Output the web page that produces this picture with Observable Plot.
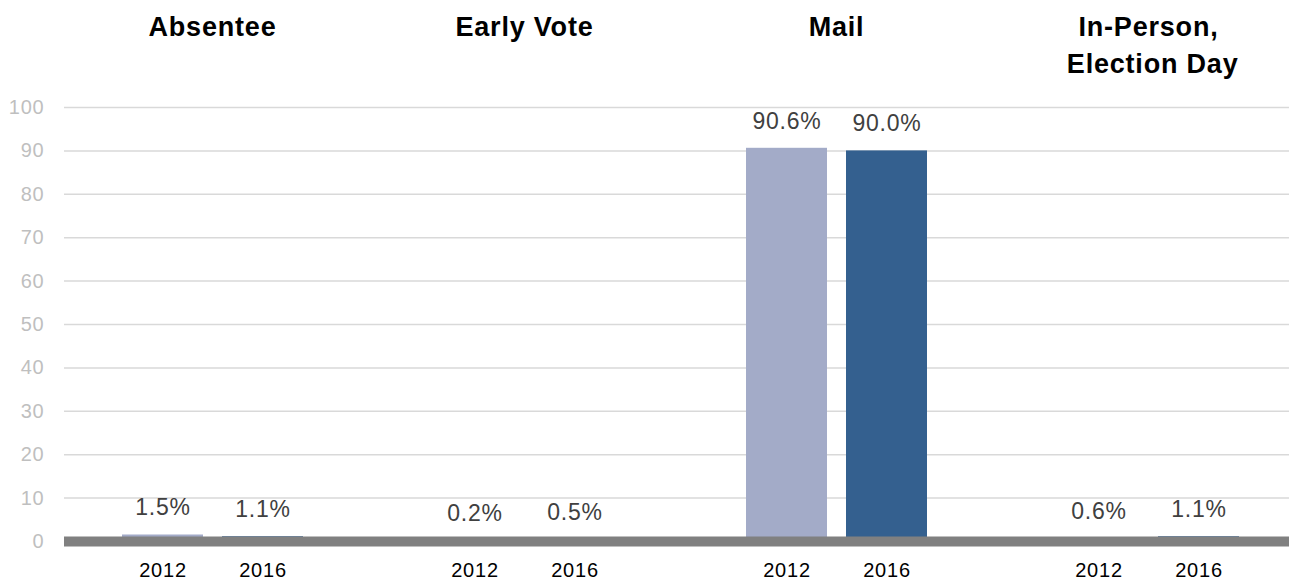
<!DOCTYPE html>
<html>
<head>
<meta charset="utf-8">
<script src="https://cdn.jsdelivr.net/npm/d3@7"></script>
<script src="https://cdn.jsdelivr.net/npm/@observablehq/plot@0.6"></script>
<style>
  html, body { margin: 0; padding: 0; background: #fff; }
  svg { font-family: "Liberation Sans", Arial, sans-serif; }
  svg text { letter-spacing: 0.8px; }
</style>
</head>
<body>
<div id="chart"></div>
<script>
const categories = ["Absentee", "Early Vote", "Mail", "In-Person, Election Day"];
const titles = ["Absentee", "Early Vote", "Mail", "In-Person,\n Election Day"];
const years = ["2012", "2016"];
const values2012 = [1.5, 0.2, 90.6, 0.6];
const values2016 = [1.1, 0.5, 90.0, 1.1];
const yTicks = [0, 10, 20, 30, 40, 50, 60, 70, 80, 90, 100];
const colors = ["#a3abc8", "#34608f"];

const rows = categories.flatMap((c, i) => [
  {category: c, year: years[0], value: values2012[i]},
  {category: c, year: years[1], value: values2016[i]}
]);

const gridRows = categories.flatMap(c => yTicks.map(t => ({category: c, tick: t})));
const first = categories[0];
const last = categories[categories.length - 1];

function rules(data, opts) {
  return [
    Plot.ruleY(data, {...opts, filter: d => d.category === first, insetLeft: 8}),
    Plot.ruleY(data, {...opts, filter: d => d.category !== first && d.category !== last}),
    Plot.ruleY(data, {...opts, filter: d => d.category === last, insetRight: 15})
  ];
}

const chart = Plot.plot({
  width: 1307,
  height: 585,
  marginTop: 107,
  marginBottom: 44,
  marginLeft: 55,
  marginRight: 2,
  style: {fontFamily: "'Liberation Sans', Arial, sans-serif", background: "#fff"},
  fx: {domain: categories, padding: 0, axis: null, label: null},
  x: {domain: years, paddingInner: 0.19, paddingOuter: 0.655, axis: null, label: null},
  y: {domain: [0, 100], axis: null, label: null},
  color: {domain: years, range: colors},
  marks: [
    ...rules(gridRows, {fx: "category", y: "tick", stroke: "#d9d9d9", strokeWidth: 1.5}),
    Plot.barY(rows, {fx: "category", x: "year", y: "value", fill: "year"}),
    ...rules(categories.map(c => ({category: c, tick: 0})), {fx: "category", y: "tick", stroke: "#808080", strokeWidth: 10}),
    Plot.text(rows, {fx: "category", x: "year", y: "value", text: d => d.value.toFixed(1) + "%", dy: -27, fontSize: 23, fill: "#404040"}),
    Plot.axisY({ticks: yTicks, tickSize: 0, tickPadding: 12, fontSize: 20, fill: "#bfbfbf", label: null}),
    Plot.axisX({tickSize: 0, tickPadding: 21, fontSize: 20, fill: "#000", label: null}),
    Plot.text(categories, {fx: d => d, text: (d, i) => titles[i], frameAnchor: "top", lineAnchor: "top", dy: -98, fontSize: 27, fontWeight: "bold", fill: "#000", lineHeight: 1.37})
  ]
});
document.getElementById("chart").appendChild(chart);
</script>
</body>
</html>
